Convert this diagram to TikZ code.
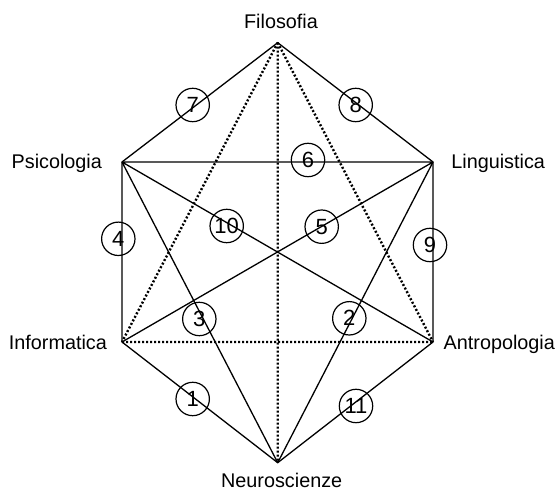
\documentclass[tikz,border=0pt]{standalone}
\usepackage{fontspec}
\setmainfont{Liberation Sans}
\begin{document}
\begin{tikzpicture}[x=0.5pt,y=-0.5pt,
  field/.style={inner sep=0pt,font=\fontsize{9.9}{12}\selectfont},
  num/.style={draw,circle,line width=0.6pt,minimum size=16.7pt,inner sep=0pt,
    font=\fontsize{11}{12}\selectfont},
  link/.style={line width=0.65pt},
  weak/.style={line width=1.2pt,dash pattern=on 1pt off 1pt}]
  \useasboundingbox (0,0) rectangle (557,490);
  \coordinate (F) at (277.7,42.7);
  \coordinate (P) at (122,162);
  \coordinate (L) at (433,162);
  \coordinate (A) at (433,342);
  \coordinate (I) at (122,342);
  \coordinate (N) at (277.7,462.7);
  \draw[link] (F) -- (P) -- (I) -- (N) -- (A) -- (L) -- cycle;
  \draw[link] (P) -- (L) (P) -- (A) (L) -- (I) (P) -- (N) (L) -- (N);
  \draw[weak] (F) -- (I) (F) -- (A) (F) -- (N) (I) -- (A);
  \node[num] (n1) at (192.7,399) {1};
  \node[num] (n2) at (349.3,318.3) {2};
  \node[num] (n3) at (199.3,319) {3};
  \node[num] (n4) at (118.3,238.8) {4};
  \node[num] (n5) at (321.7,226.7) {5};
  \node[num] (n6) at (308,160) {6};
  \node[num] (n7) at (192.7,105) {7};
  \node[num] (n8) at (355.7,105) {8};
  \node[num] (n9) at (430,245) {9};
  \node[num] (n10) at (226.7,226) {10};
  \node[num] (n11) at (356,406) {11};
  \node[field,anchor=base] (fil) at (281,29) {Filosofia};
  \node[field,anchor=base east] (psi) at (102.3,169) {Psicologia};
  \node[field,anchor=base east] (inf) at (107.3,350) {Informatica};
  \node[field,anchor=base west] (lin) at (451,169) {Linguistica};
  \node[field,anchor=base west] (ant) at (443.3,350) {Antropologia};
  \node[field,anchor=base] (neu) at (281.7,487.5) {Neuroscienze};
\end{tikzpicture}
\end{document}
